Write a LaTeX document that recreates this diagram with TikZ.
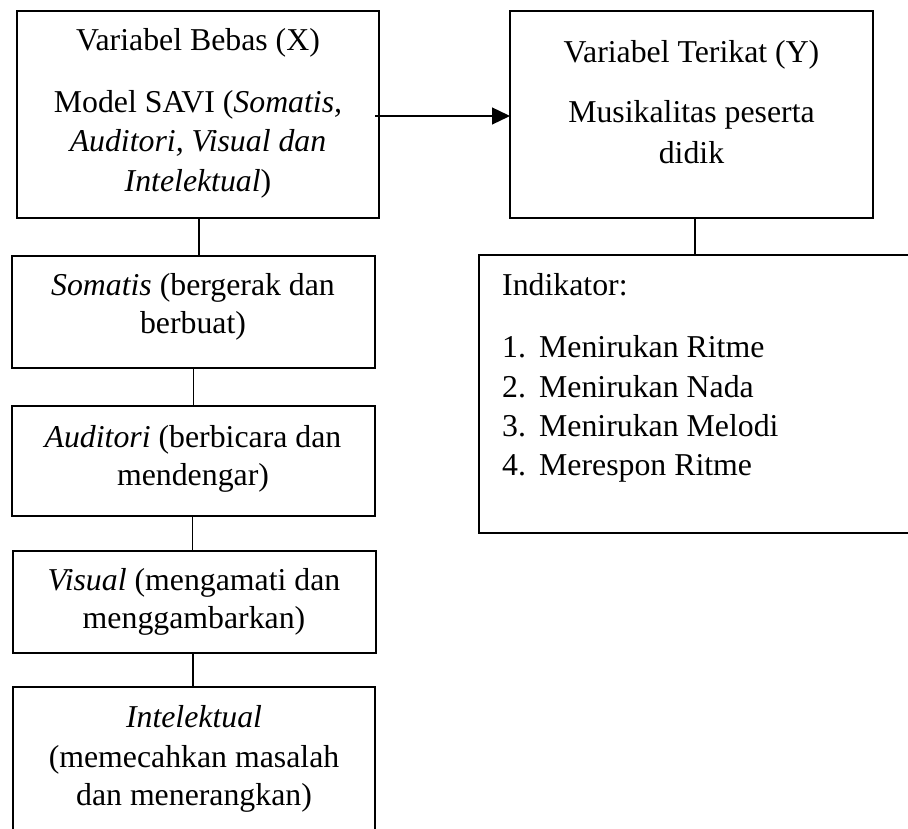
\documentclass[tikz,border=0pt]{standalone}
\usepackage{fontspec}
\setmainfont{Liberation Serif}
\usetikzlibrary{arrows.meta}
\begin{document}
\begin{tikzpicture}[x=1pt,y=-1pt,
  box/.style={draw, line width=2.9pt, inner sep=0pt, outer sep=0pt},
  conn/.style={line width=1.3pt},
  txt/.style={inner sep=0pt, anchor=base, font=\fontsize{31.8}{40}\selectfont},
  txtl/.style={txt, anchor=base west}]
\useasboundingbox (0,0) rectangle (908,829);
\clip (0,0) rectangle (908,829);
\fill[white] (0,0) rectangle (908,829);

% boxes
\node[box, minimum width=362pt, minimum height=207pt] (X) at (198,114.5) {};
\node[box, minimum width=363pt, minimum height=207pt] (Y) at (691.5,114.5) {};
\node[box, minimum width=363pt, minimum height=112pt] (S) at (193.5,312) {};
\node[box, minimum width=363pt, minimum height=110pt] (A) at (193.5,461) {};
\node[box, minimum width=363pt, minimum height=102pt] (V) at (194.5,602) {};
\node[box, minimum width=362pt, minimum height=173pt] (I) at (194,773.5) {};
\node[box, minimum width=461pt, minimum height=278pt] (K) at (709.5,394) {};

% texts X
\node[txt] (x1) at (198,51) {Variabel Bebas (X)};
\node[txt] (x2) at (198,113) {Model SAVI (\textit{Somatis,}};
\node[txt] (x3) at (198,152) {\textit{Auditori, Visual dan}};
\node[txt] (x4) at (198,192) {\textit{Intelektual})};
% texts Y
\node[txt] (y1) at (691.5,63) {Variabel Terikat (Y)};
\node[txt] (y2) at (691.5,123) {Musikalitas peserta};
\node[txt] (y3) at (691.5,164) {didik};
% Somatis
\node[txt] (s1) at (193,295) {\textit{Somatis} (bergerak dan};
\node[txt] (s2) at (193,334) {berbuat)};
% Auditori
\node[txt] (a1) at (193,447) {\textit{Auditori} (berbicara dan};
\node[txt] (a2) at (193,485) {mendengar)};
% Visual
\node[txt] (v1) at (194,590) {\textit{Visual} (mengamati dan};
\node[txt] (v2) at (194,628) {menggambarkan)};
% Intelektual
\node[txt] (i1) at (194,727) {\textit{Intelektual}};
\node[txt] (i2) at (194,767) {(memecahkan masalah};
\node[txt] (i3) at (194,805) {dan menerangkan)};
% Indikator
\node[txtl] (k0) at (502,295) {Indikator:};
\node[txtl] (k1n) at (502,357) {1.};
\node[txtl] (k1) at (539,357) {Menirukan Ritme};
\node[txtl] (k2n) at (502,397) {2.};
\node[txtl] (k2) at (539,397) {Menirukan Nada};
\node[txtl] (k3n) at (502,436) {3.};
\node[txtl] (k3) at (539,436) {Menirukan Melodi};
\node[txtl] (k4n) at (502,475) {4.};
\node[txtl] (k4) at (539,475) {Merespon Ritme};

% connectors
\coordinate (a0) at (375,116);
\draw[conn, -{Triangle[length=18pt,width=17pt]}] (a0) -- (a0 -| Y.west);
\draw[conn] ([xshift=1pt]X.south) -- ([xshift=1pt]X.south |- S.north);
\draw[conn] (S.south) -- (S.south |- A.north);
\draw[conn] ([xshift=-1pt]A.south) -- ([xshift=-1pt]A.south |- V.north);
\draw[conn] ([xshift=-1.5pt]V.south) -- ([xshift=-1.5pt]V.south |- I.north);
\draw[conn] ([xshift=3.5pt]Y.south) -- ([xshift=3.5pt]Y.south |- K.north);
\end{tikzpicture}
\end{document}
